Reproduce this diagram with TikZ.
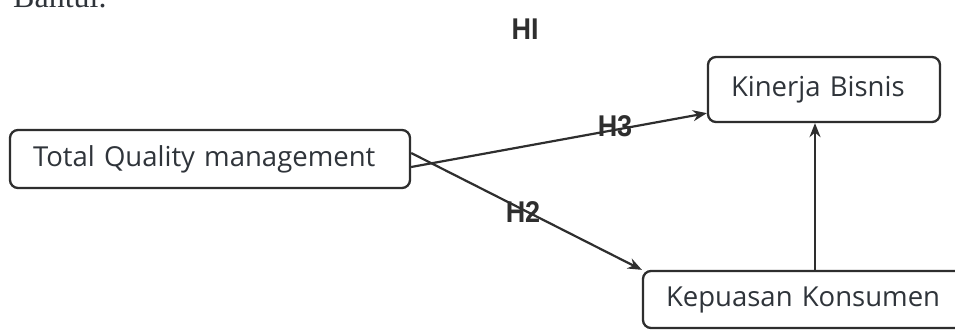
\documentclass[tikz,border=0pt]{standalone}
\usepackage{fontspec}
\setmainfont{Liberation Serif}
\newfontfamily\boxfont{Open Sans}
\newfontfamily\hfont{Liberation Sans}
\usetikzlibrary{arrows.meta}
\definecolor{ink}{HTML}{2E2E2E}
\definecolor{txt}{HTML}{2F343A}
\begin{document}
\begin{tikzpicture}[x=1pt,y=-1pt,
  boxnode/.style={draw=ink,line width=2.3pt,rounded corners=8pt,font=\boxfont\fontsize{27.5}{32}\selectfont,text=txt,inner ysep=0pt,inner xsep=23pt,align=left},
  hlabel/.style={font=\hfont\bfseries\fontsize{30}{34}\selectfont,text=ink,inner sep=0pt},
  conn/.style={draw=ink,line width=2.2pt,-{Stealth[length=14pt,width=11pt]}}]
\clip (0,0) rectangle (955,331);
\fill[white] (0,0) rectangle (955,331);
\node[anchor=base west,font=\fontsize{32}{36}\selectfont,text=txt,inner sep=0pt] (bantul) at (13,8) {Bantul.};
\node[boxnode,minimum height=58pt,text width=354pt] (tqm) at (210,159) {Total Quality management};
\node[boxnode,minimum height=65pt,text width=186pt] (kb) at (824,89.5) {Kinerja Bisnis};
\node[boxnode,minimum height=57pt,text width=286pt] (kk) at (809,299.5) {Kepuasan Konsumen};
\draw[conn] ([yshift=-8pt]tqm.east) -- ([yshift=10pt]kb.south west);
\draw[conn] ([yshift=6pt]tqm.east) -- (kk.north west);
\draw[conn] ([xshift=-9pt]kb.south |- kk.north) -- ([xshift=-9pt]kb.south);
\node[hlabel,xscale=0.9] (h1) at (525,29) {HI};
\node[hlabel,xscale=0.9] (h3) at (615,126) {H3};
\node[hlabel,xscale=0.9] (h2) at (523,212) {H2};
\end{tikzpicture}
\end{document}
